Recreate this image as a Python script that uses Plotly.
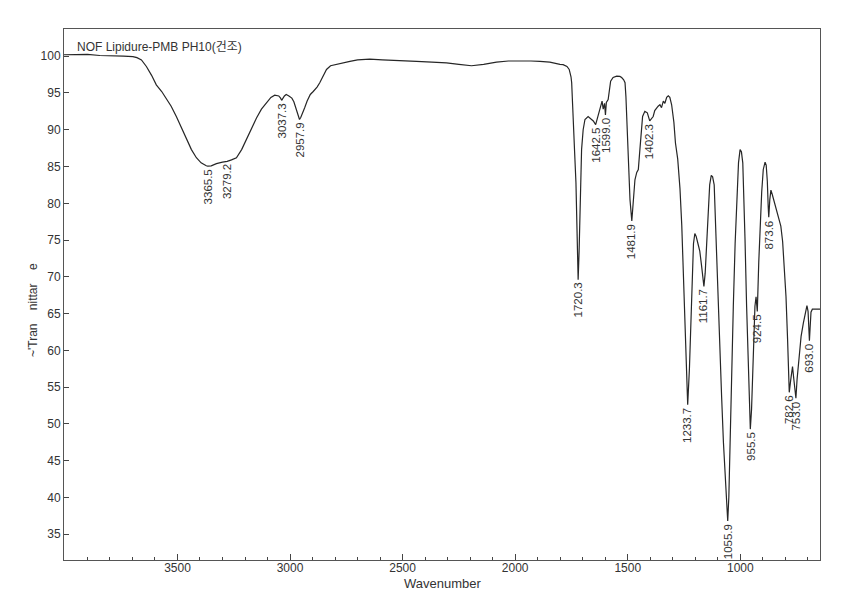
import numpy as np
import plotly.graph_objects as go

# ---- data -----------------------------------------------------------------
wavenumber = [
    4004, 3950, 3900, 3845, 3780, 3740, 3698, 3680, 3660, 3638, 3615, 3594, 3570,
    3550, 3528, 3505, 3483, 3461, 3438, 3416, 3395, 3372, 3365.5, 3350, 3327, 3300,
    3279.2, 3260, 3238, 3215, 3194, 3170, 3149, 3127, 3105, 3085, 3068, 3050, 3042,
    3037.3, 3025, 3017, 3005, 2992, 2983, 2975, 2966, 2957.9, 2952, 2946, 2935,
    2924, 2910, 2897, 2880, 2868, 2853, 2838, 2820, 2794, 2760, 2734, 2700, 2646,
    2590, 2540, 2490, 2438, 2370, 2305, 2250, 2194, 2140, 2083, 2030, 1979, 1930,
    1890, 1846, 1801, 1787, 1770, 1760, 1752, 1749, 1745, 1742, 1736, 1730, 1725,
    1720.3, 1716, 1712, 1708, 1705, 1698, 1690, 1676, 1665, 1653, 1642.5, 1630,
    1620, 1614, 1609, 1603, 1599.0, 1595, 1587, 1580, 1576, 1565, 1549, 1535,
    1527, 1518, 1512, 1508, 1505, 1501, 1498, 1490, 1481.9, 1475, 1468, 1460, 1453,
    1446, 1440, 1434, 1424, 1413, 1402.3, 1395, 1387, 1380, 1372, 1365, 1357, 1350,
    1342, 1335, 1327, 1320, 1313, 1305, 1295, 1288, 1278, 1268, 1260, 1253, 1245,
    1240, 1233.7, 1226, 1220, 1214, 1208, 1202, 1196, 1188, 1180, 1172, 1165,
    1161.7, 1156, 1150, 1143, 1136, 1129, 1123, 1116, 1110, 1104, 1098, 1090, 1083,
    1075, 1066, 1060, 1055.9, 1051, 1046, 1040, 1031, 1023, 1016, 1008, 1001, 995,
    989, 984, 979, 972, 965, 960, 955.5, 950, 945, 940, 935, 930, 924.5, 918, 913,
    905, 898, 890, 885, 880, 876, 873.6, 869, 864, 858, 850, 838, 828, 820, 812,
    805, 797, 790, 785, 782.6, 776, 768, 762, 756, 753.0, 748, 742, 730, 720, 710,
    704, 699, 695, 693.0, 690, 686, 680, 670, 660, 646,
]
transmittance = [
    100.2, 100.2, 100.25, 100.1, 100.1, 100.0, 99.95, 99.8, 99.5, 98.6, 97.4, 96.1, 95.2,
    94.3, 93.2, 91.8, 90.3, 88.7, 87.3, 86.2, 85.5, 85.1, 85.05, 85.1, 85.4, 85.6,
    85.7, 85.9, 86.2, 87.3, 88.7, 90.2, 91.6, 92.8, 93.7, 94.4, 94.7, 94.6, 94.3,
    94.0, 94.6, 94.8, 94.6, 94.3, 93.8, 93.0, 92.0, 91.4, 91.7, 92.1, 93.0,
    93.9, 94.8, 95.2, 95.8, 96.4, 97.3, 98.2, 98.7, 98.9, 99.2, 99.3, 99.5, 99.6,
    99.5, 99.4, 99.35, 99.3, 99.2, 99.1, 98.9, 98.7, 98.9, 99.2, 99.35, 99.4, 99.35,
    99.3, 99.2, 98.9, 98.85, 98.6, 98.2, 97.2, 96.4, 93.5, 91.8, 87.0, 82.8, 76.0,
    69.6, 73.5, 78.2, 83.0, 87.3, 90.0, 91.4, 91.8, 91.5, 91.2, 90.7, 92.0,
    93.2, 93.9, 92.8, 93.6, 92.0, 93.7, 94.1, 95.5, 96.6, 97.1, 97.3, 97.25,
    97.1, 96.8, 96.4, 94.5, 91.8, 88.5, 85.0, 80.5, 77.6, 80.5, 83.2, 84.2, 84.6,
    87.3, 90.0, 91.8, 92.5, 92.3, 91.2, 91.5, 91.8, 92.6, 93.0, 93.2, 93.4, 93.0,
    93.9, 93.6, 94.4, 94.6, 94.4, 93.4, 91.0, 88.2, 86.0, 82.0, 77.0, 70.5, 64.0,
    57.0, 52.6, 57.5, 63.0, 70.0, 74.5, 75.9, 75.5, 74.5, 73.5, 71.5, 69.5,
    68.7, 70.5, 74.0, 78.5, 82.5, 83.8, 83.6, 82.5, 77.0, 71.0, 66.0, 59.5, 53.7,
    47.5, 41.5, 38.5, 36.8, 40.0, 47.5, 56.0, 66.0, 74.5, 81.0, 85.5, 87.3, 87.0,
    85.5, 81.0, 75.0, 66.0, 57.5, 51.5, 49.3, 52.0, 57.0, 62.0, 66.0, 67.3, 65.3, 72.0, 76.4,
    81.5, 84.6, 85.6, 85.2, 83.0, 79.5, 78.1, 80.5, 81.8, 81.2, 80.3, 79.1, 78.0, 76.9, 74.8,
    71.5, 67.3, 61.5, 56.5, 54.3, 56.0, 57.8, 56.0, 54.0, 53.5, 56.0, 58.3, 61.9, 63.7, 65.3,
    66.1, 65.3, 62.5, 61.3, 63.0, 65.2, 65.6, 65.6, 65.5, 65.6,
]
peak_labels = ["3365.5", "3279.2", "3037.3", "2957.9", "1720.3", "1642.5", "1599.0",
               "1481.9", "1402.3", "1233.7", "1161.7", "1055.9", "955.5", "924.5",
               "873.6", "782.6", "753.0", "693.0"]
x_ticks = [3500, 3000, 2500, 2000, 1500, 1000]
y_ticks = [35, 40, 45, 50, 55, 60, 65, 70, 75, 80, 85, 90, 95, 100]
title_text = "NOF Lipidure-PMB PH10(건조)"
y_title_text = "~'Tran\u00a0\u00a0\u00a0\u00a0nittar\u00a0\u00a0\u00a0\u00a0e"
x_title_text = "Wavenumber"

FONT = "Liberation Sans, Arial, Noto Sans CJK KR, sans-serif"
INK = "#333333"

fig = go.Figure()
fig.add_trace(go.Scatter(
    x=wavenumber, y=transmittance, mode="lines",
    line=dict(color="#262626", width=1.2), hoverinfo="skip", showlegend=False,
))

wn_asc = np.array(wavenumber)[::-1]
tr_asc = np.array(transmittance)[::-1]
for lab in peak_labels:
    pos = float(lab)
    yv = float(np.interp(pos, wn_asc, tr_asc))
    fig.add_annotation(
        x=pos, y=yv, xref="x", yref="y", text=lab, showarrow=False,
        textangle=-90, xanchor="center", yanchor="top", yshift=-1,
        font=dict(family=FONT, size=11.5, color=INK),
    )

fig.add_annotation(x=(75 - 64) / 756, y=(560 - 47) / 531, xref="paper", yref="paper",
                   text=title_text, showarrow=False, xanchor="left", yanchor="middle",
                   font=dict(family=FONT, size=12, color=INK))
fig.add_annotation(x=(33 - 64) / 756, y=(560 - 310) / 531, xref="paper", yref="paper",
                   text=y_title_text, showarrow=False, textangle=-90,
                   xanchor="center", yanchor="middle",
                   font=dict(family=FONT, size=12, color=INK))
fig.add_annotation(x=0.5, y=(560 - 583) / 531, xref="paper", yref="paper",
                   text=x_title_text, showarrow=False, xanchor="center", yanchor="middle",
                   font=dict(family=FONT, size=13, color=INK))

fig.update_layout(
    width=853, height=598,
    margin=dict(l=64, r=33, t=29, b=38),
    paper_bgcolor="white", plot_bgcolor="white",
    font=dict(family=FONT, size=12, color=INK),
    xaxis=dict(
        range=[4004, 646], tickmode="array", tickvals=x_ticks,
        ticks="inside", ticklen=6, tickwidth=1, tickcolor="#444",
        minor=dict(dtick=100, tick0=0, ticks="inside", ticklen=3, tickcolor="#444", showgrid=False),
        showline=True, linecolor="#555", linewidth=1, mirror=True,
        showgrid=False, zeroline=False, tickfont=dict(size=12, color=INK),
        ticklabelstandoff=-3,
    ),
    yaxis=dict(
        range=[31.5, 103.7], tickmode="array", tickvals=y_ticks,
        ticks="inside", ticklen=5, tickwidth=1, tickcolor="#444",
        showline=True, linecolor="#555", linewidth=1, mirror=True,
        showgrid=False, zeroline=False, tickfont=dict(size=12, color=INK),
    ),
)

fig.write_html("out.html")
